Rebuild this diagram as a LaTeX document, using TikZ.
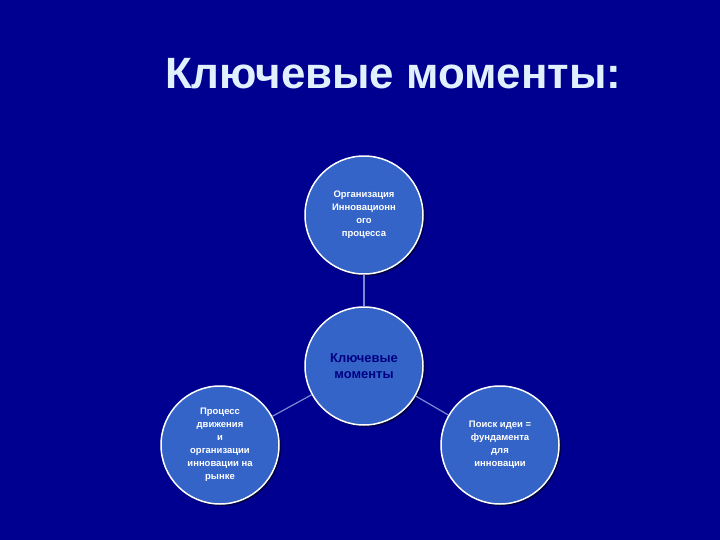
\documentclass[tikz,border=0pt]{standalone}
\usepackage{fontspec}
\setmainfont{Liberation Sans}
\usetikzlibrary{shadows}
\definecolor{bg}{RGB}{0,0,144}
\definecolor{circfill}{RGB}{52,100,200}
\definecolor{titlecol}{RGB}{225,240,255}
\definecolor{linkcol}{RGB}{120,140,210}
\definecolor{navytext}{RGB}{0,0,130}
\tikzset{
  bubble/.style={circle, draw=white, line width=1.5pt, fill=circfill, minimum size=118bp, inner sep=0pt, align=center, text=white, font=\fontsize{9.5}{13}\selectfont\bfseries,
    drop shadow={shadow xshift=2bp, shadow yshift=-2bp, fill=black, opacity=0.5}},
  link/.style={draw=linkcol, line width=1.2pt}
}
\begin{document}
\begin{tikzpicture}[x=1bp,y=-1bp]
\fill[bg] (0,0) rectangle (720,540);
\useasboundingbox (0,0) rectangle (720,540);
\node[text=titlecol, font=\fontsize{44}{52}\selectfont\bfseries, anchor=base west, inner sep=0pt] (title) at (165,89) {Ключевые моменты:};
\node[bubble] (top) at (364,215) {Организация\\Инновационн\\ого\\процесса};
\node[bubble, text=navytext, font=\fontsize{13}{16}\selectfont\bfseries] (mid) at (364,366) {Ключевые\\моменты};
\node[bubble] (left) at (220,445) {Процесс\\движения\\и\\организации\\инновации на\\рынке};
\node[bubble] (right) at (500,445) {Поиск идеи =\\фундамента\\для\\инновации};
\draw[link] (top) -- (mid);
\draw[link] (mid) -- (left);
\draw[link] (mid) -- (right);
\end{tikzpicture}
\end{document}
